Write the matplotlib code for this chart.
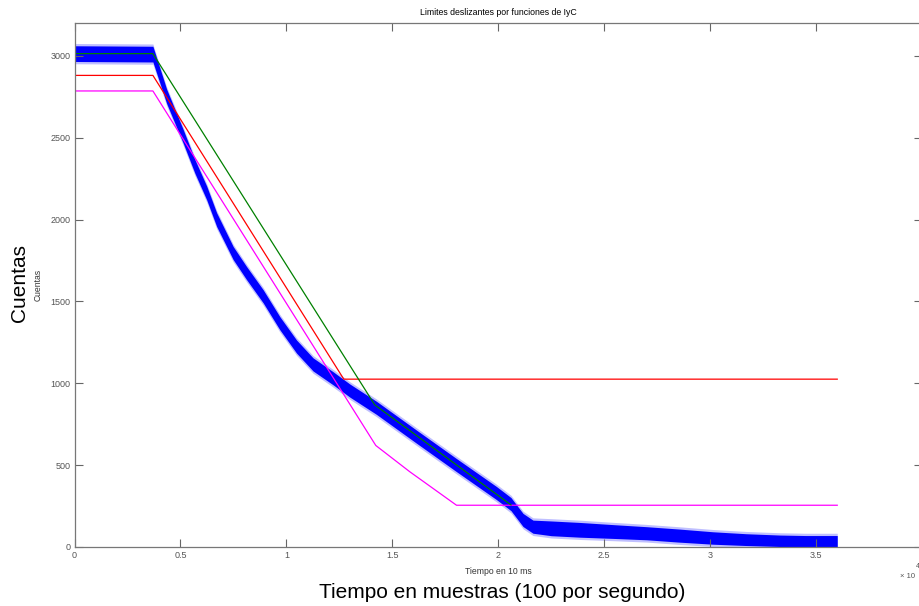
import numpy as np
import matplotlib.pyplot as plt

plt.rcParams['font.family'] = ['Liberation Sans', 'DejaVu Sans']

# sample index (in units of 1e4 samples)
blueX = [0, 0.37, 0.435, 0.513, 0.568, 0.624, 0.671, 0.749, 0.812, 0.891, 0.969,
         1.048, 1.126, 1.221, 1.30, 1.425, 1.614, 1.803, 1.991, 2.06, 2.117, 2.164,
         2.25, 2.384, 2.55, 2.70, 2.85, 3.013, 3.17, 3.328, 3.45, 3.6]
blueMid = [3013, 3010, 2752, 2508, 2325, 2162, 1999, 1795, 1673, 1530, 1367,
           1224, 1115, 1030, 955, 850, 674, 500, 330, 262, 165, 124,
           114, 105, 94, 84, 70, 55, 45, 38, 35, 35]
blueHalf = [48, 48, 44, 42, 42, 42, 42, 40, 40, 40, 40,
            40, 40, 40, 40, 40, 40, 40, 40, 40, 40, 40,
            45, 45, 42, 40, 40, 38, 36, 35, 35, 35]

greenX = [0, 0.37, 1.417, 2.06]
greenY = [3013, 3013, 868, 257]
redX = [0, 0.37, 1.271, 3.6]
redY = [2880, 2880, 1025, 1025]
magX = [0, 0.37, 1.422, 1.449, 1.582, 1.803, 3.6]
magY = [2785, 2785, 620, 593, 460, 255, 255]

xTicks = [0, 0.5, 1, 1.5, 2, 2.5, 3, 3.5, 4]
xTickLabels = ['0', '0.5', '1', '1.5', '2', '2.5', '3', '3.5', '4']
yTicks = [0, 500, 1000, 1500, 2000, 2500, 3000]

fig = plt.figure(figsize=(9.2, 6.06), dpi=100)
ax = fig.add_axes([74.5/920, 59/606, (922-74.5)/920, (547-23)/606])

bx = np.array(blueX) * 1e4
bm = np.array(blueMid)
bh = np.array(blueHalf)
# fuzzy edge of the noisy trace, then the dense core
ax.fill_between(bx, bm - bh - 14, bm + bh + 14, color=(0, 0, 1), alpha=0.25, lw=0)
ax.fill_between(bx, bm - bh, bm + bh, color=(0, 0, 1), lw=0)

ax.plot(np.array(redX) * 1e4, redY, color=(1, 0, 0), lw=0.9)
ax.plot(np.array(magX) * 1e4, magY, color=(1, 0, 1), lw=0.9)
ax.plot(np.array(greenX) * 1e4, greenY, color=(0, 0.5, 0), lw=0.9)

ax.set_xlim(0, 4e4)
ax.set_ylim(0, 3200)
ax.set_xticks(np.array(xTicks) * 1e4)
ax.set_xticklabels(xTickLabels)
ax.set_yticks(yTicks)
ax.tick_params(direction='in', length=5.5, width=0.8, colors='#666666',
               labelcolor='#555555', labelsize=6.5, top=True, right=True, pad=3)
for s in ax.spines.values():
    s.set_color('#777777')
    s.set_linewidth(0.9)

ax.set_title('Limites deslizantes por funciones de IyC', fontsize=6.3, pad=6)
ax.set_xlabel('Tiempo en 10 ms', fontsize=6.2, color='#333333')
ax.set_ylabel('Cuentas', fontsize=6.2, color='#333333')
ax.xaxis.set_label_coords(0.5, -0.038)
ax.yaxis.set_label_coords(-0.038, 0.5)

fig.text(900/920, 1 - 577/606, '× 10', fontsize=5.5, color='#555555', va='center')
fig.text(916/920, 1 - 566/606, '4', fontsize=5, color='#555555', va='center')

fig.text(20/920, 1 - 283/606, 'Cuentas', fontsize=15, rotation=90,
         ha='center', va='center')
fig.text(502/920, 1 - 592/606, 'Tiempo en muestras (100 por segundo)', fontsize=15,
         ha='center', va='center')

fig.savefig('out.png', dpi=100)
